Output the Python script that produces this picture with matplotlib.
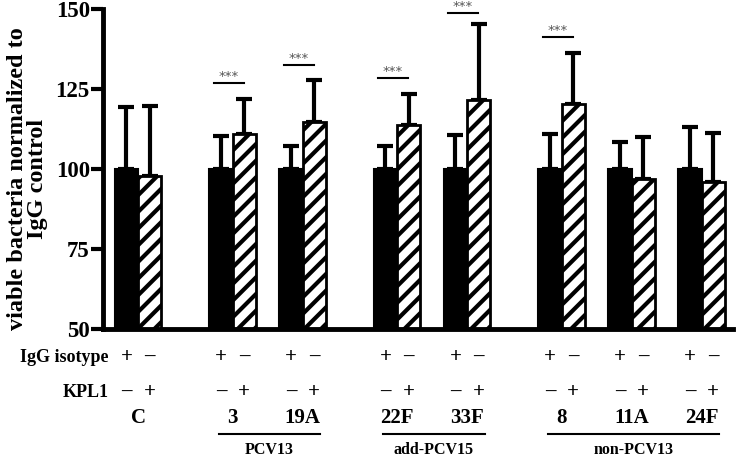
import matplotlib
matplotlib.use("Agg")
import matplotlib.pyplot as plt

plt.rcParams['font.family'] = ['Liberation Serif', 'DejaVu Serif']
plt.rcParams['font.weight'] = 'bold'
plt.rcParams['hatch.linewidth'] = 3.0

# serotypes, grouped by vaccine coverage
groups = [("", ["C"]), ("PCV13", ["3", "19A"]), ("add-PCV15", ["22F", "33F"]),
          ("non-PCV13", ["8", "11A", "24F"])]

# IgG isotype (black) and KPL1 (hatched)
igg_mean = [100, 100, 100, 100, 100, 100, 100, 100]
igg_top = [119.5, 110.3, 107.2, 107.3, 110.6, 111.0, 108.5, 113.0]
kpl_mean = [97.8, 110.9, 114.7, 113.8, 121.5, 120.4, 96.9, 95.9]
kpl_top = [119.7, 122.0, 127.7, 123.4, 145.2, 136.1, 110.0, 111.3]

# significance bars (serotype -> height of bracket)
sig = {"3": 126.9, "19A": 132.4, "22F": 128.5, "33F": 148.6, "8": 141.2}

# x positions: 1 per serotype, bigger gap between groups
xs = []
labels = []
pos = 0.0
for gi, (gname, sers) in enumerate(groups):
    if gi > 0:
        pos += 1.35
    for si, s in enumerate(sers):
        if si > 0:
            pos += 1.0
        xs.append(pos)
        labels.append(s)

fig = plt.figure(figsize=(7.39, 4.57), dpi=100)
ax = fig.add_axes([103 / 739, 128 / 457, 630 / 739, 320 / 457])

w = 0.33
xb = [x - w / 2 for x in xs]
xh = [x + w / 2 for x in xs]

ax.errorbar(xb, igg_mean, yerr=[[0] * 8, [t - m for t, m in zip(igg_top, igg_mean)]],
            fmt='none', ecolor='black', elinewidth=3, capsize=6, capthick=3, zorder=1)
ax.errorbar(xh, kpl_mean, yerr=[[0] * 8, [t - m for t, m in zip(kpl_top, kpl_mean)]],
            fmt='none', ecolor='black', elinewidth=3, capsize=6, capthick=3, zorder=1)
ax.bar(xb, [m - 50 for m in igg_mean], width=w, bottom=50, color='black',
       edgecolor='black', linewidth=1.5, zorder=2)
ax.bar(xh, [m - 50 for m in kpl_mean], width=w, bottom=50, color='white',
       edgecolor='black', linewidth=2, hatch='//', zorder=2)

for x, s in zip(xs, labels):
    if s in sig:
        y = sig[s]
        ax.plot([x - 0.27, x + 0.16], [y, y], color='black', lw=1.5,
                clip_on=False, zorder=3)
        ax.text(x - 0.055, y + 2.1, "***", ha='center', va='center',
                fontsize=9.5, color='#555555', family='DejaVu Sans',
                fontweight='normal')

ax.set_xlim(-0.5, 8.5)
ax.set_ylim(50, 150)
ax.set_yticks([50, 75, 100, 125, 150])
ax.set_xticks([])
for sp in ['top', 'right']:
    ax.spines[sp].set_visible(False)
for sp in ['left', 'bottom']:
    ax.spines[sp].set_linewidth(3.5)
ax.tick_params(axis='y', length=8.5, width=3, labelsize=16.5, pad=1)
ax.set_ylabel("viable bacteria normalized to\nIgG control", fontsize=17.5,
              fontweight='bold', linespacing=0.93)
ax.yaxis.set_label_coords(-0.087, 0.47)

tr = ax.get_xaxis_transform()
ax.text(-0.42, -0.0875, "IgG isotype", transform=tr, ha='right', va='center',
        fontsize=13)
ax.text(-0.42, -0.197, "KPL1", transform=tr, ha='right', va='center',
        fontsize=13)
for x, s in zip(xs, labels):
    ax.text(x - w / 2, -0.0875, "+", transform=tr, ha='center', va='center', fontsize=15)
    ax.text(x + w / 2, -0.0875, "\u2013", transform=tr, ha='center', va='center', fontsize=15)
    ax.text(x - w / 2, -0.197, "\u2013", transform=tr, ha='center', va='center', fontsize=15)
    ax.text(x + w / 2, -0.197, "+", transform=tr, ha='center', va='center', fontsize=15)
    ax.text(x, -0.278, s, transform=tr, ha='center', va='center', fontsize=15)

i = 0
for gname, sers in groups:
    n = len(sers)
    if gname:
        x0 = xs[i] - 0.2
        x1 = xs[i + n - 1] + 0.25
        ax.plot([x0, x1], [-0.328, -0.328], transform=tr, color='black', lw=1.5,
                clip_on=False)
        ax.text((x0 + x1) / 2, -0.378, gname, transform=tr, ha='center',
                va='center', fontsize=11.5)
    i += n

fig.savefig("out.png", dpi=100)
